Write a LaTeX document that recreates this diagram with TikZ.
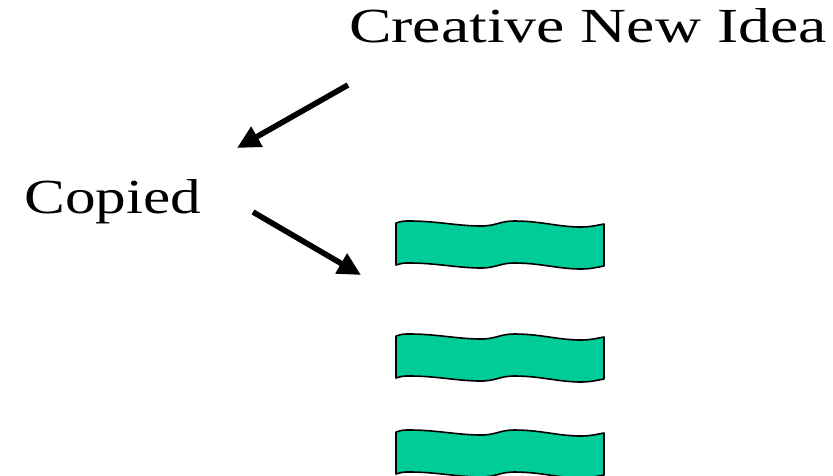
\documentclass[tikz,border=0pt]{standalone}
\usepackage{fontspec}
\setmainfont{Liberation Serif}
\usetikzlibrary{arrows.meta}
\definecolor{wavegreen}{HTML}{00CC99}
\tikzset{
  bigtext/.style={inner sep=0pt, font=\fontsize{49}{58}\selectfont},
  fatarrow/.style={line width=5.6pt, -{Triangle[length=23pt,width=22pt]}},
  waveshape/.style={fill=wavegreen, draw=black, line width=1.6pt, line join=round}
}
\newcommand{\wavebox}[3]{% name, x, y of top-left
  \begin{scope}[shift={(#2,#3)}]
    \draw[waveshape] (0,0) .. controls (6,-2) and (8,-2) .. (14,-2)
      .. controls (40,-2) and (62,3) .. (85,3)
      .. controls (100,3) and (104,-2) .. (118,-2)
      .. controls (145,-2) and (162,4) .. (185,4)
      .. controls (195,4) and (202,2) .. (208,1)
      -- (208,43)
      .. controls (202,44) and (195,46) .. (185,46)
      .. controls (162,46) and (145,40) .. (118,40)
      .. controls (104,40) and (100,45) .. (85,45)
      .. controls (62,45) and (40,40) .. (14,40)
      .. controls (8,40) and (6,40) .. (0,42) -- cycle;
    \coordinate (#1) at (104,21);
  \end{scope}}
\begin{document}
\begin{tikzpicture}[x=1pt,y=-1pt]
  \useasboundingbox (0,0) rectangle (833,475);
  \node[bigtext, anchor=base west] (idea) at (349,42) {\scalebox{1.30}[1]{Creative New Idea}};
  \node[bigtext, anchor=base west] (copied) at (24,213) {\scalebox{1.25}[1]{Copied}};
  \coordinate (a1s) at (348,85);
  \coordinate (a1e) at (237,148);
  \coordinate (a2s) at (253,212);
  \coordinate (a2e) at (361,275);
  \draw[fatarrow] (a1s) -- (a1e);
  \draw[fatarrow] (a2s) -- (a2e);
  \wavebox{w1}{396}{223}
  \wavebox{w2}{396}{336}
  \wavebox{w3}{396}{432}
\end{tikzpicture}
\end{document}
